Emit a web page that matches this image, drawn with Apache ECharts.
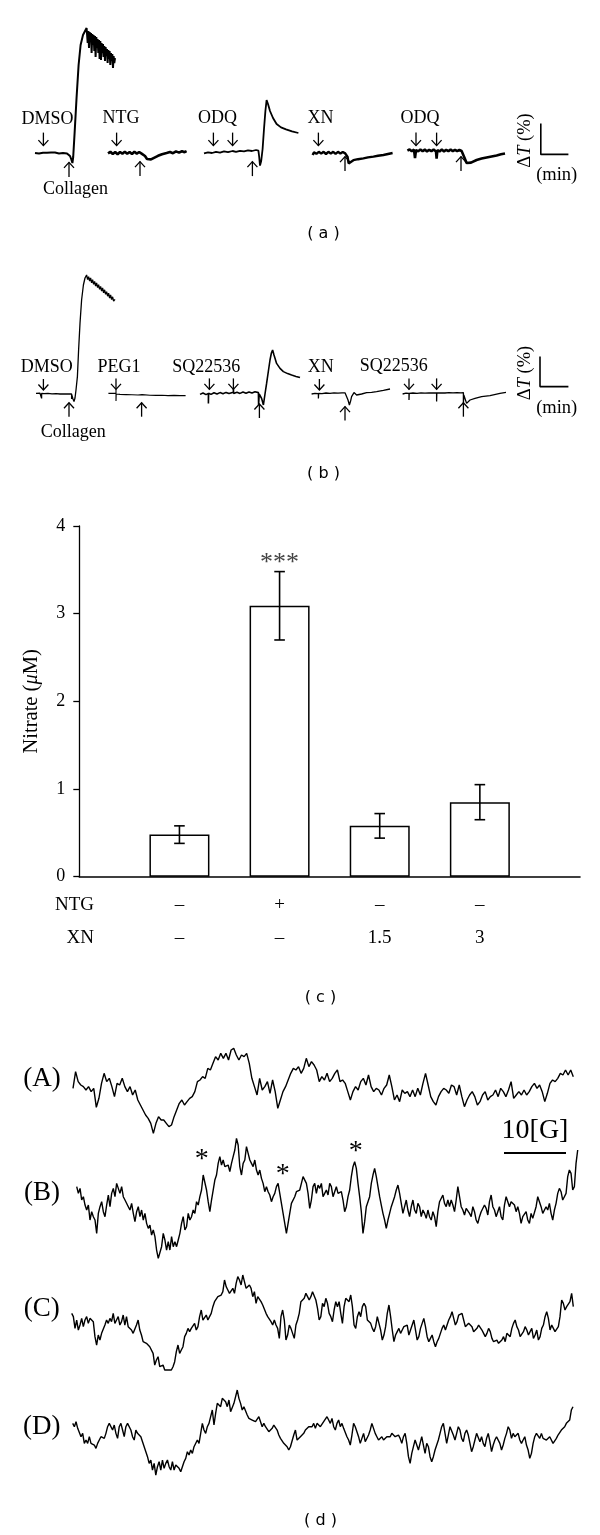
<!DOCTYPE html>
<html><head><meta charset="utf-8">
<script src="https://cdn.jsdelivr.net/npm/echarts@6/dist/echarts.min.js"></script>
<style>html,body{margin:0;padding:0;background:#fff}#c{width:600px;height:1535px}</style>
</head><body><div id="c"></div>
<script>
// ================= DATA =================
// (a) aggregation traces: [time (a.u.), ΔT (a.u.)]
const a_DMSO = [[17.5,0],[18.5,0.6],[19.5,-0.3],[20.5,0.7],[21.5,0.1],[22.5,0.8],[23.5,0.1],[24.5,0.8],[25.5,0.2],[26.5,0.9],[27.5,0.2],[28.5,0.7],[29.5,-0.2],[30.5,0.6],[31.5,0],[32.5,0.6],[33.5,-0.2],[34.5,0.3],[35,-1.5],[35.6,-3],[36.2,-5],[36.6,-2],[37.3,10],[38.3,28],[39.3,44],[40.3,54],[41.5,59],[43.3,62.5],[43.85,55],[44.2,61],[44.5,52.5],[44.85,60.5],[45.2,56.5],[45.5,60],[45.8,50],[46.15,59.5],[46.5,54],[46.8,59],[47.15,51],[47.5,58.5],[47.8,48],[48.15,58],[48.5,52.5],[48.8,57],[49.15,50],[49.5,56.5],[49.8,47],[50.15,56],[50.5,46.5],[50.8,55],[51.15,50],[51.5,54.5],[51.8,48],[52.15,53.5],[52.5,46],[52.8,53],[53.15,48.5],[53.5,52],[53.8,45],[54.15,51.5],[54.5,47],[54.8,51],[55.15,44],[55.5,50],[55.8,46],[56.15,49.5],[56.5,42.5],[56.8,48.5],[57.15,45],[57.5,47.5]];
const a_NTG = [[54,-0.2],[55.2,0.6],[56.4,-0.5],[57.6,0.5],[58.8,-0.6],[60,0.5],[61.2,-0.3],[62.4,0.6],[63.6,-0.4],[64.8,0.5],[66,-0.5],[67.2,0.6],[68.4,-0.3],[69.6,0.5],[70.8,-0.3],[71.7,0.2],[72.5,-1.5],[73.5,-3],[74.3,-3.8],[75.5,-3.2],[77,-2.4],[79,-1.4],[81,-0.6],[83.3,0],[85,0.5],[86.5,-0.1],[88,0.8],[89.5,0.2],[91,0.9],[92.3,0.4],[93.3,0.9]];
const a_ODQ = [[102,-0.2],[104,0.3],[106,0],[108,0.6],[110,0.2],[112,0.8],[114,0.4],[116.3,1],[118,0.6],[120,1.1],[122,0.8],[124,1.3],[126,1],[128,1.5],[129.2,1.2],[129.6,-2],[130,-6.3],[130.6,-4],[131.3,2],[132,12],[132.7,21],[133.3,26.5],[134,24.5],[135,21],[136.5,17.5],[138.3,14.5],[140.5,12.8],[143,11.8],[146,10.8],[149.2,10]];
const a_XN = [[156.3,-1],[157,0.3],[158.2,-0.4],[159.4,0.6],[160.6,-0.3],[161.8,0.6],[163,-0.5],[164.2,0.6],[165.4,-0.3],[166.6,0.6],[167.8,-0.4],[169,0.6],[170.2,-0.3],[171.4,0.5],[172.6,-0.2],[173.3,0.2],[173.8,-2],[174.3,-5.2],[175,-4.6],[176.7,-3.6],[179,-3.1],[181.7,-2.7],[184,-2.2],[186.7,-1.8],[189,-1.4],[191.7,-1],[194,-0.5],[196.3,0]];
const a_ODQ2 = [[203.7,1.2],[204.8,1.8],[205.9,0.9],[207,1.7],[207.5,-2.5],[208,1.5],[209.1,0.8],[210.2,1.8],[211.3,0.9],[212.4,1.7],[213.5,0.8],[214.6,1.6],[215.7,0.9],[216.8,1.8],[218,0.8],[218.3,-2.8],[218.7,1.4],[219.8,0.8],[220.9,1.7],[222,0.8],[223.1,1.6],[224.2,0.9],[225.3,1.8],[226.4,0.9],[227.5,1.6],[228.6,0.9],[229.7,1.5],[230.8,1],[231.3,0],[232.3,-2.5],[233.3,-5],[234.2,-5.5],[235.5,-4.8],[238.3,-3.5],[240.8,-2.8],[243.3,-2.2],[245.8,-1.7],[248.3,-1.2],[250.5,-0.6],[252.5,-0.2]];
const scaleBarA = [[270.4,14.8],[270.4,-0.7],[284.2,-0.7]];
const arrowsDownA = [[21.7,3.7],[58.3,3.7],[106.7,3.7],[116.3,3.7],[159.2,3.7],[208,3.7],[218.3,3.7]];
const arrowsUpA = [[34.5,-4.7],[70,-4.3],[126.2,-4.3],[172.5,-1.8],[230.5,-1.8]];

// (b) aggregation traces
const b_DMSO = [[18,0.3],[19,0.2],[20,0.4],[20.8,0.3],[20.8,1.2],[20.8,-2.2],[20.8,0.3],[22,0.2],[24,0.3],[26,0.1],[28,0.2],[30,0],[32,0.1],[34,0],[35.8,0],[35.8,-2.5],[35.9,-0.5],[36.5,-2.5],[37,-3.8],[37.5,-2],[38,2],[38.7,8.7],[39.3,22],[40,35.3],[40.8,47],[41.7,54.5],[42.5,58],[43.3,59.5],[43.8,57.2],[44.3,58.7],[44.8,56.5],[45.3,58],[45.8,55.6],[46.3,57.2],[46.8,54.8],[47.3,56.3],[47.8,54],[48.3,55.5],[48.8,53.2],[49.3,54.7],[49.8,52.3],[50.3,53.8],[50.8,51.5],[51.3,53],[51.8,50.6],[52.3,52.1],[52.8,49.8],[53.3,51.2],[53.8,48.9],[54.3,50.4],[54.8,48],[55.3,49.5],[55.8,47.2],[56.3,48.6],[56.8,46.4],[57.5,47.3]];
const b_PEG1 = [[54.2,0.3],[56,0.4],[58,0.3],[58,2.3],[58,-3.5],[58.1,0],[60,-0.2],[63,-0.3],[66,-0.4],[69,-0.5],[71,-0.3],[72,-0.8],[75,-0.6],[78,-0.7],[81,-0.6],[84,-0.8],[87,-0.7],[90,-0.8],[92.8,-0.8]];
const b_SQ = [[100,-0.2],[101.5,0.5],[103,-0.3],[104.2,0.3],[104.2,-4.7],[104.3,0.4],[105.5,-0.2],[107,0.6],[108.5,0],[110,0.7],[111.5,0.1],[113,0.8],[114.5,0.2],[116.7,0.9],[116.7,2.5],[116.8,0.3],[118.5,0.9],[120,0.3],[121.5,1],[123,0.4],[124.5,1],[126,0.5],[127.5,1.1],[129.2,0.7],[129.3,-5.5],[129.6,0],[130.8,-2.2],[131.7,-5.5],[132.5,0],[133.3,5.3],[134.2,11.5],[135,17],[135.7,20.5],[136.3,22],[137,19.5],[138.3,15.3],[140,12.8],[141.7,11.2],[143.8,10.2],[145.8,9.5],[148,8.8],[150,8.2]];
const b_XN = [[155.8,0],[157.5,0.3],[159.2,0.2],[159.2,1.2],[159.2,-2.2],[159.3,0.3],[161,0.2],[163,0.5],[165,0.3],[167,0.6],[169,0.4],[171,0.6],[172.5,0.6],[173.3,0.3],[174,-3],[174.7,-5.5],[175.3,-3.5],[175.8,-1.3],[177,0.7],[178.3,-0.5],[180.8,0],[183.3,0.7],[185.8,0.8],[188.3,1.2],[191.7,1.8],[195,2.5]];
const b_SQ2 = [[201.3,0],[203,0.4],[204.5,0.3],[204.5,1.2],[204.5,-3],[204.6,0.3],[206.5,0.5],[208.5,0.3],[210.5,0.6],[212.5,0.4],[214.5,0.6],[216.5,0.5],[218.3,0.6],[218.3,1.2],[218.3,-3.8],[218.4,0.5],[220.5,0.6],[222.5,0.5],[224.5,0.7],[226.5,0.6],[228.5,0.7],[230.5,0.6],[231.7,0.7],[231.7,-4.7],[231.9,-0.5],[232.5,-1.3],[233.3,-4.7],[235,-3],[237.5,-2.2],[240.8,-1.3],[245,-0.8],[250,0.3],[253,0.8]];
const scaleBarB = [[270,18.7],[270,3.7],[284.2,3.7]];
const arrowsDownB = [[21.7,2],[58,2.3],[104.7,2.3],[116.7,2.3],[159.7,2],[204.5,2.3],[218.3,2.3]];
const arrowsUpB = [[34.5,-4.35],[70.8,-4.35],[129.7,-5],[172.5,-6.3],[231.7,-4.35]];

// (c) nitrate bar chart
const barPositions = [1, 2, 3, 4];
const ntgRow = ['–', '+', '–', '–'];
const xnRow = ['–', '–', '1.5', '3'];
const nitrateMean = [0.48, 3.09, 0.58, 0.85];
const nitrateErr = [0.10, 0.39, 0.14, 0.20];
const nitrateTicks = [0, 1, 2, 3, 4];

// (d) EPR spectra (intensity, a.u., uniform field steps)
const epr_A = [195,245,215,205,200,190,200,185,195,138,165,210,240,215,225,200,170,210,205,225,200,185,200,175,190,160,145,130,115,105,90,60,90,110,100,100,90,80,85,110,130,150,160,145,155,165,170,185,215,220,230,225,255,250,270,290,280,300,285,300,280,310,315,295,280,295,290,300,270,225,200,175,225,190,200,215,180,220,185,135,160,185,200,220,240,255,
250,260,240,255,285,260,275,265,250,215,230,220,240,215,225,240,250,215,220,210,185,160,185,200,190,215,225,205,235,200,185,195,190,175,195,205,235,200,160,175,155,190,180,185,170,190,170,195,175,210,240,205,170,155,145,170,185,195,190,180,205,200,175,205,170,140,160,175,185,170,145,155,175,185,160,170,175,190,170,195,185,170,190,215,165,175,185,175,190,175,185,200,210,195,205,185,155,180,210,220,215,225,240,235,250,235,250,230];
const epr_B = [300,280,295,260,270,245,230,245,200,225,210,200,160,220,240,255,225,210,245,275,240,280,295,270,310,305,280,300,270,260,255,240,230,250,220,195,225,240,210,230,200,220,190,175,185,155,170,150,110,85,80,120,160,140,110,135,110,150,120,135,120,140,160,190,210,170,180,220,200,210,230,220,255,245,270,290,335,330,290,255,225,260,290,320,335,370,390,365,380,360,355,365,345,370,390,410,445,425,360,335,370,380,420,400,380,370,360,380,350,335,350,325,310,285,300,285,275,255,270,280,300,310,280,250,220,190,160,190,220,250,255,270,285,290,
290,310,330,325,310,280,235,260,300,310,280,305,295,310,270,280,290,275,310,300,270,285,300,280,275,285,260,225,240,270,290,330,360,375,355,310,270,225,160,195,240,255,270,310,335,355,330,300,270,245,220,200,175,200,220,240,255,270,290,305,280,250,220,240,260,230,210,240,260,230,220,250,240,210,230,220,205,230,210,200,225,210,180,225,255,260,275,250,240,260,240,260,245,225,260,300,270,240,230,215,235,240,220,210,240,225,200,190,210,225,220,245,235,215,255,275,240,230,210,225,240,210,200,245,270,265,240,255,260,245,225,240,220,190,210,205,225,200,190,220,205,210,240,270,255,240,220,225,240,230,250,220,200,230,250,280,295,285,260,270,280,330,350,340,290,300,370,410];
const epr_C = [220,210,175,200,170,185,205,180,200,210,190,205,200,195,150,125,155,140,160,155,185,200,190,205,195,220,190,200,210,185,195,215,185,210,180,175,170,160,165,185,200,170,155,135,140,130,125,120,125,100,65,80,90,60,55,65,50,55,50,55,50,60,75,105,125,100,110,120,150,160,175,165,175,180,190,170,180,210,230,200,205,215,200,210,220,240,255,260,270,265,275,285,320,300,290,280,285,295,280,310,330,320,305,335,315,295,290,305,295,270,285,250,270,275,255,245,240,220,210,205,195,185,200,185,175,145,210,230,200,140,155,185,175,160,145,185,200,220,
255,250,265,280,270,260,270,285,280,260,235,200,210,250,240,265,250,220,210,195,230,255,240,255,220,190,240,265,270,255,275,240,185,175,210,225,210,240,250,240,200,195,190,175,165,180,210,190,170,140,155,180,220,245,210,170,135,155,165,175,160,170,180,175,185,155,170,175,200,170,140,150,175,190,205,180,150,135,145,155,135,120,135,145,160,175,185,170,185,200,210,225,205,185,195,215,210,220,200,180,175,190,195,180,165,160,175,185,190,170,160,150,160,175,165,145,135,130,140,130,125,140,150,135,160,165,150,175,190,200,180,170,150,145,165,180,170,155,165,175,145,155,170,140,150,175,185,210,225,205,170,185,175,165,165,180,210,260,250,230,240,235,255,280,240];
const epr_D = [190,180,195,175,170,150,160,130,140,130,150,130,135,125,115,130,140,150,155,145,160,180,190,195,170,185,160,145,180,190,170,150,180,190,195,170,150,140,170,160,155,150,135,120,105,90,70,80,50,70,35,60,75,50,80,55,70,80,60,50,75,50,65,60,55,45,60,75,85,105,95,110,100,120,125,140,130,160,190,170,160,180,190,210,230,185,220,250,255,240,265,270,255,240,260,225,220,250,250,290,265,250,230,240,235,215,205,210,200,205,195,200,210,195,180,190,180,180,165,170,175,185,190,170,155,145,150,130,125,120,110,120,125,155,170,140,135,
150,155,160,170,165,180,185,180,190,175,190,195,180,185,195,200,210,200,190,205,180,170,190,200,180,190,175,170,150,140,125,155,190,180,175,150,130,145,160,135,130,155,170,190,185,160,150,140,145,150,140,145,150,155,150,160,155,150,155,155,145,130,150,160,130,90,70,100,120,140,125,110,130,150,125,100,130,120,90,75,90,110,125,140,160,180,190,160,130,155,180,185,155,140,160,180,170,145,135,160,170,155,130,105,120,140,160,155,135,150,130,120,145,160,135,105,125,140,150,155,130,110,125,145,160,180,170,145,160,150,145,160,140,130,140,150,125,110,85,100,130,150,160,155,145,160,145,150,140,135,150,145,130,135,145,155,160,170,165,180,190,195,200,230,240];

// ================= CHART =================
const SERIF = '"Liberation Serif", "Times New Roman", serif';
const SANS = '"DejaVu Sans", Verdana, sans-serif';
const chart = echarts.init(document.getElementById('c'), null, {renderer: 'canvas'});

function traceLine(ai, data, w) {
  return {type: 'line', xAxisIndex: ai, yAxisIndex: ai, data: data, symbol: 'none', silent: true, clip: false,
    lineStyle: {color: '#000', width: w}, z: 3};
}
function arrowSeries(ai, data, dir, len) {
  return {type: 'custom', xAxisIndex: ai, yAxisIndex: ai, data: data, silent: true, clip: false, z: 4,
    renderItem: function (params, api) {
      const p = api.coord([api.value(0), api.value(1)]);
      const hw = 5, hl = 5.5;
      return {type: 'group', children: [
        {type: 'line', shape: {x1: p[0], y1: p[1], x2: p[0], y2: p[1] - dir * len}, style: {stroke: '#000', lineWidth: 1.3}},
        {type: 'polyline', shape: {points: [[p[0] - hw, p[1] - dir * hl], [p[0], p[1]], [p[0] + hw, p[1] - dir * hl]]}, style: {stroke: '#000', lineWidth: 1.3, fill: null}}
      ]};
    }};
}
function epr(ai, data) {
  return {type: 'line', xAxisIndex: ai, yAxisIndex: ai, data: data, symbol: 'none', silent: true, clip: false,
    lineStyle: {color: '#000', width: 1.4}};
}
function txt(text, x, y, size, extra) {
  return Object.assign({type: 'text', x: x, y: y, silent: true, z: 10,
    style: {text: text, font: size + 'px ' + SERIF, fill: '#000', align: 'center', verticalAlign: 'middle', textAlign: 'center', textVerticalAlign: 'middle'}}, extra || {});
}
function tag(text, x, y) {
  return {type: 'text', x: x, y: y, silent: true,
    style: {text: text, font: '16px ' + SANS, fill: '#000', align: 'center', verticalAlign: 'middle', textAlign: 'center', textVerticalAlign: 'middle'}};
}
function deltaT(x, y) {
  return {type: 'text', x: x, y: y, rotation: Math.PI / 2, silent: true,
    style: {text: '{n|Δ}{i|T}{n| (%)}', align: 'center', verticalAlign: 'middle', textAlign: 'center', textVerticalAlign: 'middle',
      rich: {n: {fontFamily: SERIF, fontSize: 18.5, fill: '#000', color: '#000'}, i: {fontFamily: SERIF, fontSize: 18.5, fontStyle: 'italic', fill: '#000', color: '#000'}}}};
}
const idx = arr => arr.map((_, i) => i);

const option = {
  animation: false,
  backgroundColor: '#fff',
  textStyle: {fontFamily: SERIF, color: '#000'},
  grid: [
    {left: 0, right: 0, top: 13, height: 180},
    {left: 0, right: 0, top: 254, height: 180},
    {left: 79.3, right: 20, top: 526, height: 350.7},
    {left: 73, right: 26.7, top: 1020, height: 133.3},
    {left: 76.7, right: 22.3, top: 1020, height: 266.7},
    {left: 71.7, right: 26.7, top: 1270, height: 116.7},
    {left: 72.7, right: 27, top: 1270, height: 216.7}
  ],
  xAxis: [
    {gridIndex: 0, type: 'value', min: 0, max: 300, show: false},
    {gridIndex: 1, type: 'value', min: 0, max: 300, show: false},
    {gridIndex: 2, type: 'value', min: 0, max: 5, interval: 1,
      axisLine: {show: true, onZero: false, lineStyle: {color: '#000', width: 1.6}},
      axisTick: {show: false}, splitLine: {show: false},
      axisLabel: {show: true, margin: 12,
        formatter: function (v) {
          const i = barPositions.indexOf(v);
          return i < 0 ? '' : '{r|' + ntgRow[i] + '}\n{r|' + xnRow[i] + '}';
        },
        rich: {r: {fontFamily: SERIF, fontSize: 19, lineHeight: 33, color: '#000'}}}},
    {gridIndex: 3, type: 'category', data: idx(epr_A), boundaryGap: false, show: false},
    {gridIndex: 4, type: 'category', data: idx(epr_B), boundaryGap: false, show: false},
    {gridIndex: 5, type: 'category', data: idx(epr_C), boundaryGap: false, show: false},
    {gridIndex: 6, type: 'category', data: idx(epr_D), boundaryGap: false, show: false}
  ],
  yAxis: [
    {gridIndex: 0, type: 'value', min: -20, max: 70, show: false},
    {gridIndex: 1, type: 'value', min: -20, max: 70, show: false},
    {gridIndex: 2, type: 'value', min: nitrateTicks[0], max: nitrateTicks[nitrateTicks.length - 1], interval: 1,
      axisLine: {show: true, lineStyle: {color: '#000', width: 1.3}},
      axisTick: {show: true, inside: false, length: 6, lineStyle: {color: '#000', width: 1.3}},
      splitLine: {show: false},
      axisLabel: {color: '#000', fontFamily: SERIF, fontSize: 18, margin: 14},
      name: '{n|Nitrate (}{i|μ}{n|M)}', nameLocation: 'middle', nameRotate: 90, nameGap: 37,
      nameTextStyle: {rich: {n: {fontFamily: SERIF, fontSize: 20.5, color: '#000'}, i: {fontFamily: SERIF, fontSize: 20.5, fontStyle: 'italic', color: '#000'}}}},
    {gridIndex: 3, type: 'value', min: 0, max: 400, show: false},
    {gridIndex: 4, type: 'value', min: 0, max: 800, show: false},
    {gridIndex: 5, type: 'value', min: 0, max: 350, show: false},
    {gridIndex: 6, type: 'value', min: 0, max: 650, show: false}
  ],
  series: [
    traceLine(0, a_DMSO, 2), traceLine(0, a_NTG, 2.6), traceLine(0, a_ODQ, 1.8), traceLine(0, a_XN, 2.4), traceLine(0, a_ODQ2, 2.6),
    traceLine(0, scaleBarA, 1.6),
    arrowSeries(0, arrowsDownA, 1, 13), arrowSeries(0, arrowsUpA, -1, 14.5),
    traceLine(1, b_DMSO, 1.3), traceLine(1, b_PEG1, 1.1), traceLine(1, b_SQ, 1.6), traceLine(1, b_XN, 1.3), traceLine(1, b_SQ2, 1.3),
    traceLine(1, scaleBarB, 1.6),
    arrowSeries(1, arrowsDownB, 1, 11), arrowSeries(1, arrowsUpB, -1, 14),
    {type: 'bar', xAxisIndex: 2, yAxisIndex: 2, barWidth: 60, silent: true,
      data: nitrateMean.map((m, i) => [barPositions[i], m]),
      itemStyle: {color: '#fff', borderColor: '#000', borderWidth: 1.5}},
    {type: 'custom', xAxisIndex: 2, yAxisIndex: 2, silent: true, z: 5,
      data: nitrateMean.map((m, i) => [barPositions[i], m - nitrateErr[i], m + nitrateErr[i]]),
      renderItem: function (params, api) {
        const lo = api.coord([api.value(0), api.value(1)]);
        const hi = api.coord([api.value(0), api.value(2)]);
        const cw = 5.3, st = {stroke: '#000', lineWidth: 1.6};
        return {type: 'group', children: [
          {type: 'line', shape: {x1: lo[0], y1: lo[1], x2: hi[0], y2: hi[1]}, style: st},
          {type: 'line', shape: {x1: hi[0] - cw, y1: hi[1], x2: hi[0] + cw, y2: hi[1]}, style: st},
          {type: 'line', shape: {x1: lo[0] - cw, y1: lo[1], x2: lo[0] + cw, y2: lo[1]}, style: st}
        ]};
      }},
    epr(3, epr_A), epr(4, epr_B), epr(5, epr_C), epr(6, epr_D)
  ],
  graphic: [
    // (a)
    txt('DMSO', 47.5, 119, 18), txt('NTG', 121, 118.5, 18), txt('ODQ', 217.5, 118.5, 18),
    txt('XN', 320.5, 118.5, 18), txt('ODQ', 420, 118.5, 18), txt('Collagen', 75.5, 189.5, 18),
    deltaT(525, 140.5), txt('(min)', 556.7, 175, 18.5), tag('( a )', 323.5, 234),
    // (b)
    txt('DMSO', 46.7, 367.5, 18), txt('PEG1', 119, 367.5, 18), txt('SQ22536', 206.3, 367.5, 18),
    txt('XN', 320.8, 367, 18), txt('SQ22536', 393.7, 366, 18), txt('Collagen', 73.3, 432.5, 18),
    deltaT(525.5, 373), txt('(min)', 556.7, 408, 18.5), tag('( b )', 323.5, 474),
    // (c)
    txt('NTG', 94, 905, 19, {style: {text: 'NTG', font: '19px ' + SERIF, fill: '#000', align: 'right', textAlign: 'right', verticalAlign: 'middle', textVerticalAlign: 'middle'}}),
    txt('XN', 94, 938, 19, {style: {text: 'XN', font: '19px ' + SERIF, fill: '#000', align: 'right', textAlign: 'right', verticalAlign: 'middle', textVerticalAlign: 'middle'}}),
    txt('***', 279.5, 563, 26, {style: {text: '***', font: '26px ' + SERIF, fill: '#444', align: 'center', textAlign: 'center', verticalAlign: 'middle', textVerticalAlign: 'middle'}}),
    tag('( c )', 320.5, 998),
    // (d)
    txt('(A)', 42, 1079, 27), txt('(B)', 42, 1193, 27), txt('(C)', 41.7, 1309, 27), txt('(D)', 41.7, 1427, 27),
    txt('*', 201.7, 1160, 28), txt('*', 282.7, 1175, 28), txt('*', 355.7, 1151.5, 28),
    txt('10[G]', 535, 1130.6, 28),
    {type: 'line', shape: {x1: 504, y1: 1153, x2: 566, y2: 1153}, style: {stroke: '#000', lineWidth: 2}, silent: true},
    tag('( d )', 320.5, 1520.5)
  ]
};
chart.setOption(option);
</script></body></html>
